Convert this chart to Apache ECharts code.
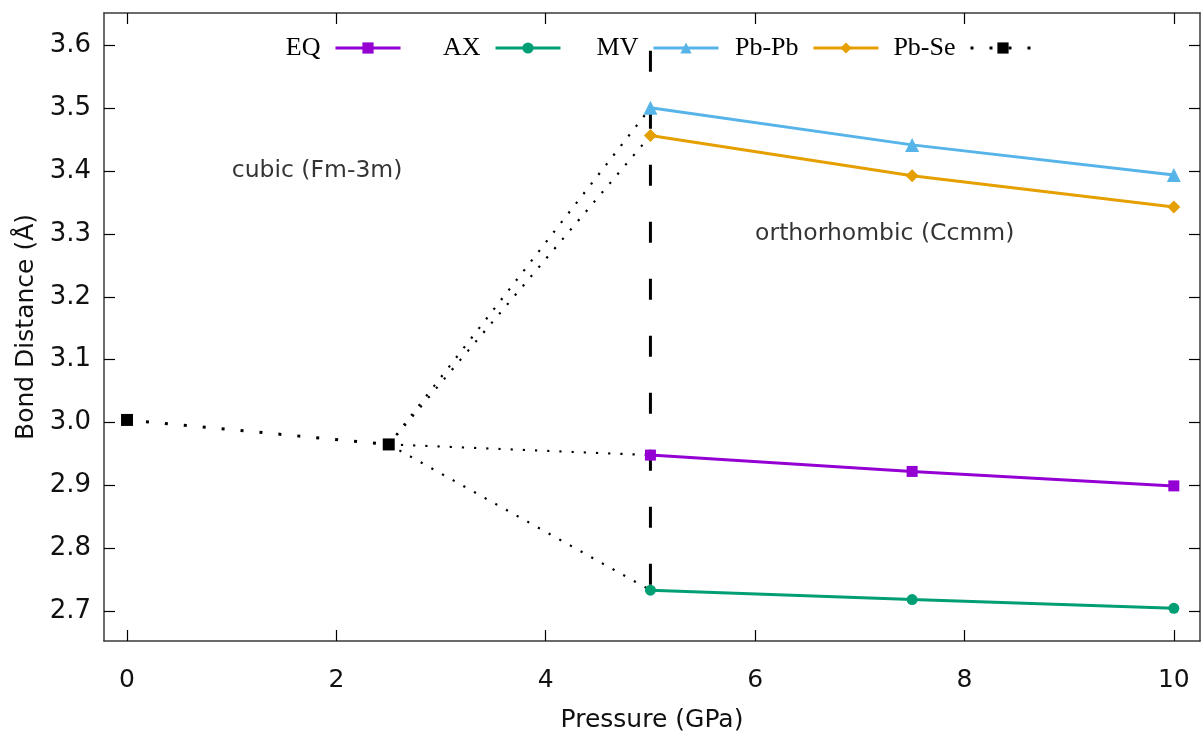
<!DOCTYPE html>
<html>
<head>
<meta charset="utf-8">
<script src="https://cdn.jsdelivr.net/npm/echarts@6/dist/echarts.min.js"></script>
<style>html,body{margin:0;padding:0;background:#fff}#c{width:1201px;height:733px}</style>
</head>
<body>
<div id="c"></div>
<script>
// ---- data ----
const pressureOrtho = [5, 7.5, 10];
const eq = [2.948, 2.922, 2.899];
const ax = [2.733, 2.718, 2.704];
const mv = [3.501, 3.442, 3.394];
const pbpb = [3.457, 3.393, 3.343];
const pressureCubic = [0, 2.5];
const pbse = [3.004, 2.965];
const phaseBoundaryX = 5;
const phaseBoundaryY = [3.592, 2.7];
const xTicks = [0, 2, 4, 6, 8, 10];
const yTicks = [2.7, 2.8, 2.9, 3.0, 3.1, 3.2, 3.3, 3.4, 3.5, 3.6];
const annotations = [
  { text: 'cubic (Fm-3m)', x: 1, y: 3.4 },
  { text: 'orthorhombic (Ccmm)', x: 6, y: 3.3 }
];
const legendNames = ['EQ', 'AX', 'MV', 'Pb-Pb', 'Pb-Se'];

// ---- chart ----
const chart = echarts.init(document.getElementById('c'), null, { renderer: 'canvas' });
const zip = (xs, ys) => xs.map((x, i) => [x, ys[i]]);
const axisColor = '#3a3a3a';
const tickFont = { fontFamily: 'DejaVu Sans', fontSize: 25, color: '#111' };

function colored(name, ys, color, symbol, size) {
  return {
    name, type: 'line', data: zip(pressureOrtho, ys),
    symbol, symbolSize: size, showSymbol: true,
    lineStyle: { color, width: 3 }, itemStyle: { color },
    z: 5, animation: false
  };
}
const transitionTargets = [mv[0], pbpb[0], eq[0], ax[0]];
const branches = transitionTargets.map(v => ({
  name: 'Pb-Se', type: 'line',
  data: [[pressureCubic[1], pbse[1]], [pressureOrtho[0], v]],
  symbol: 'none', showSymbol: false,
  lineStyle: { color: '#000', width: 2.2, type: [2.2, 10] },
  itemStyle: { color: '#000' }, z: 3, animation: false
}));

const legends = legendNames.map((n, i) => ({
  data: [n], right: [801, 641, 483, 323, 166][i] - 7, top: 30,
  align: 'right', itemWidth: 65, itemHeight: 14, itemGap: 0,
  lineStyle: { width: 3 },
  textStyle: { fontFamily: 'Liberation Serif', fontSize: 26, color: '#000', padding: [0, 10, 0, 0] },
  selectedMode: false
}));

const axisCommon = {
  axisLine: { show: true, onZero: false, lineStyle: { color: axisColor, width: 1.5 } },
  splitLine: { show: false }
};

chart.setOption({
  animation: false,
  backgroundColor: '#fff',
  grid: { left: 104, right: 1, top: 13, bottom: 92, containLabel: false, outerBoundsMode: 'none' },
  legend: legends,
  xAxis: [{
    type: 'value', min: -0.22, max: 10.25, position: 'bottom', ...axisCommon,
    name: 'Pressure (GPa)', nameLocation: 'middle', nameGap: 67,
    nameTextStyle: { fontFamily: 'DejaVu Sans', fontSize: 25, color: '#111' },
    axisTick: { show: true, inside: true, length: 11, customValues: xTicks, lineStyle: { color: '#000', width: 1.2 } },
    axisLabel: { customValues: xTicks, margin: 27, ...tickFont }
  }, {
    type: 'value', min: -0.22, max: 10.25, position: 'top', ...axisCommon,
    axisTick: { show: true, inside: true, length: 11, customValues: xTicks, lineStyle: { color: '#000', width: 1.2 } },
    axisLabel: { show: false }
  }],
  yAxis: [{
    type: 'value', min: 2.652, max: 3.652, position: 'left', ...axisCommon,
    name: 'Bond Distance (Å)', nameLocation: 'middle', nameGap: 65,
    nameTextStyle: { fontFamily: 'DejaVu Sans', fontSize: 25, color: '#111' },
    axisTick: { show: true, inside: true, length: 11, customValues: yTicks, lineStyle: { color: '#000', width: 1.2 } },
    axisLabel: { customValues: yTicks, margin: 13, formatter: v => v.toFixed(1), ...tickFont, fontSize: 26 }
  }, {
    type: 'value', min: 2.652, max: 3.652, position: 'right', ...axisCommon,
    axisTick: { show: true, inside: true, length: 11, customValues: yTicks, lineStyle: { color: '#000', width: 1.2 } },
    axisLabel: { show: false }
  }],
  series: [
    colored('EQ', eq, '#9400d3', 'rect', 11),
    colored('AX', ax, '#009e73', 'circle', 11),
    colored('MV', mv, '#56b4e9', 'triangle', 14),
    colored('Pb-Pb', pbpb, '#e69f00', 'diamond', 13),
    {
      name: 'Pb-Se', type: 'line', data: zip(pressureCubic, pbse),
      symbol: 'rect', symbolSize: 12, showSymbol: true,
      lineStyle: { color: '#000', width: 3, type: [3, 16] },
      itemStyle: { color: '#000' }, z: 4, animation: false
    },
    ...branches,
    {
      name: 'boundary', type: 'line', data: phaseBoundaryY.map(y => [phaseBoundaryX, y]),
      symbol: 'none', lineStyle: { color: '#000', width: 3, type: [21, 36] }, z: 2, animation: false
    },
    {
      name: 'labels', type: 'scatter', data: annotations.map(a => ({ value: [a.x, a.y], name: a.text })),
      symbolSize: 0, silent: true,
      label: { show: true, position: 'right', distance: 0, formatter: p => p.name,
        fontFamily: 'DejaVu Sans', fontSize: 23.5, color: '#000' }
    }
  ]
});
</script>
</body>
</html>
